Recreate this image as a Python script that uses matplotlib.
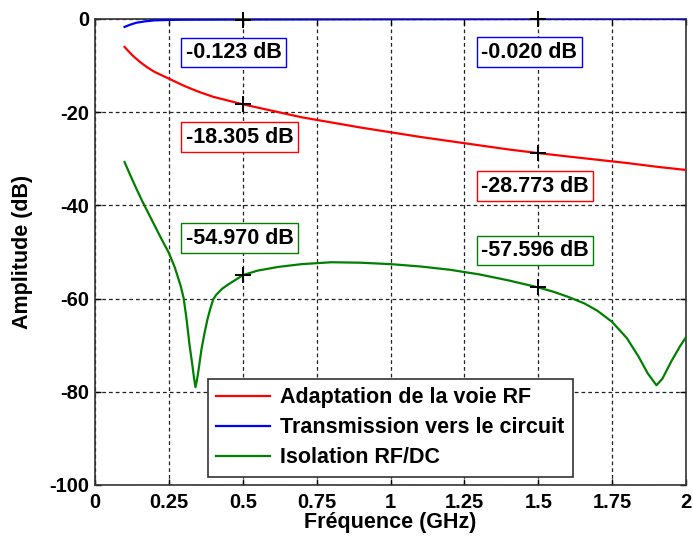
import matplotlib
matplotlib.use("Agg")
import matplotlib.pyplot as plt

# ---------------- data ----------------
freq_red = [0.10, 0.125, 0.15, 0.175, 0.20, 0.25, 0.30, 0.35, 0.40, 0.45, 0.50,
            0.60, 0.70, 0.80, 0.90, 1.00, 1.10, 1.20, 1.30, 1.40, 1.50,
            1.60, 1.70, 1.80, 1.90, 2.00]
s11_red = [-6.0, -7.7, -9.1, -10.3, -11.3, -12.8, -14.3, -15.6, -16.7, -17.5, -18.305,
           -19.7, -21.1, -22.2, -23.3, -24.3, -25.3, -26.2, -27.1, -28.0, -28.773,
           -29.5, -30.2, -30.9, -31.7, -32.4]

freq_blue = [0.10, 0.12, 0.14, 0.17, 0.20, 0.25, 0.30, 0.40, 0.50, 0.75, 1.00,
             1.25, 1.50, 1.75, 2.00]
s21_blue = [-1.7, -1.2, -0.8, -0.5, -0.3, -0.2, -0.16, -0.14, -0.123, -0.09, -0.06,
            -0.04, -0.020, -0.015, -0.01]

freq_green = [0.10, 0.12, 0.14, 0.16, 0.18, 0.20, 0.22, 0.25, 0.27, 0.29, 0.30,
              0.31, 0.32, 0.33, 0.335, 0.34, 0.345, 0.35, 0.36, 0.37, 0.38,
              0.39, 0.40, 0.41, 0.43, 0.45, 0.48, 0.50, 0.55, 0.62, 0.70, 0.80, 0.90,
              1.00, 1.10, 1.20, 1.30, 1.40, 1.50, 1.55, 1.60, 1.655, 1.70,
              1.75, 1.80, 1.84, 1.87, 1.90, 1.92, 1.95, 1.98, 2.00]
s31_green = [-30.7, -33.6, -36.4, -39.1, -41.6, -44.1, -46.6, -50.2, -53.3, -57.3, -59.9,
             -64.5, -70.0, -74.5, -77.0, -79.0, -77.5, -75.5, -71.0, -67.6, -64.6,
             -62.2, -60.2, -59.2, -57.9, -57.0, -55.8, -54.970, -54.0, -53.2, -52.6, -52.2, -52.3,
             -52.6, -53.1, -53.8, -54.8, -56.1, -57.596, -58.5, -59.6, -61.0, -62.6,
             -65.0, -68.5, -72.5, -76.0, -78.6, -77.2, -73.5, -70.2, -68.3]

marker_freq = [0.5, 1.5]
blue_marks = [-0.123, -0.020]
red_marks = [-18.305, -28.773]
green_marks = [-54.970, -57.596]

labels = ["Adaptation de la voie RF", "Transmission vers le circuit", "Isolation RF/DC"]
xticks = [0, 0.25, 0.5, 0.75, 1, 1.25, 1.5, 1.75, 2]
xticklabels = ["0", "0.25", "0.5", "0.75", "1", "1.25", "1.5", "1.75", "2"]
yticks = [-100, -80, -60, -40, -20, 0]

# ---------------- style ----------------
plt.rcParams['font.family'] = ['Liberation Sans', 'DejaVu Sans']
plt.rcParams['font.weight'] = 'bold'
plt.rcParams['axes.unicode_minus'] = False

RED = '#ff0000'
BLUE = '#0000ff'
GREEN = '#008000'

fig = plt.figure(figsize=(6.93, 5.45), dpi=100)
ax = fig.add_axes([95/693, 1-485/545, 591/693, 466/545])

l1, = ax.plot(freq_red, s11_red, color=RED, lw=1.6, zorder=3)
l2, = ax.plot(freq_blue, s21_blue, color=BLUE, lw=1.6, zorder=3)
l3, = ax.plot(freq_green, s31_green, color=GREEN, lw=1.6, zorder=3)

for vals in (blue_marks, red_marks, green_marks):
    ax.plot(marker_freq, vals, linestyle='none', marker='+', color='black',
            markersize=12, mew=1.4, zorder=4, clip_on=False)

def tag(xv, yv, color, dy):
    ax.annotate(f"{yv:.3f} dB", xy=(xv, yv), xytext=(-57, dy),
                textcoords='offset pixels', ha='left', va='center',
                fontsize=15.5, fontweight='bold', color='black', zorder=6,
                bbox=dict(boxstyle='square,pad=0.2', fc='white', ec=color, lw=1))

for xv, yv in zip(marker_freq, blue_marks):
    tag(xv, yv, BLUE, -33)
for xv, yv in zip(marker_freq, red_marks):
    tag(xv, yv, RED, -33)
for xv, yv in zip(marker_freq, green_marks):
    tag(xv, yv, GREEN, 37)

ax.set_xlim(0, 2)
ax.set_ylim(-100, 0)
ax.set_xticks(xticks)
ax.set_xticklabels(xticklabels)
ax.set_yticks(yticks)
ax.tick_params(direction='in', length=4, width=1, top=True, right=True,
               labelsize=14.5, colors='black')
ax.tick_params(axis='x', pad=6)
ax.tick_params(axis='y', pad=4)
for lab in ax.get_xticklabels() + ax.get_yticklabels():
    lab.set_fontweight('bold')

ax.grid(True, color='#222222', linestyle=(0, (3, 2.4)), linewidth=0.9)
ax.set_axisbelow(True)
for sp in ax.spines.values():
    sp.set_linewidth(1.2)
    sp.set_color('#333333')

ax.set_xlabel("Fréquence (GHz)", fontsize=15.5, fontweight='bold', va='center')
ax.xaxis.set_label_coords(0.5, -0.0815)
ax.set_ylabel("Amplitude (dB)", fontsize=15.5, fontweight='bold', va='center')
ax.yaxis.set_label_coords(-0.1235, 0.5)

leg = ax.legend([l1, l2, l3], labels, loc='lower left',
                bbox_to_anchor=(0.191, 0.017), borderaxespad=0,
                prop={'size': 15.5, 'weight': 'bold'}, frameon=True, fancybox=False,
                framealpha=1, edgecolor='#333333', handlelength=2.5,
                handletextpad=0.45, labelspacing=0.42, borderpad=0.4)
leg.get_frame().set_linewidth(1.2)
leg.set_zorder(7)

fig.savefig("out.png", dpi=100, facecolor='white')
